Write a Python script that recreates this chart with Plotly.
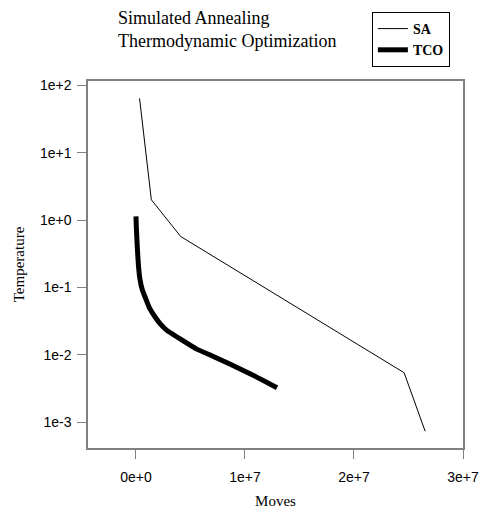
import plotly.graph_objects as go

# SA schedule
sa_moves = [3.3e5, 1.41e6, 4.1e6, 2.46e7, 2.653e7]
sa_temp = [64, 2.0, 0.57, 0.0054, 0.00073]

# TCO schedule
tco_moves = [0, 4e4, 1.2e5, 2.2e5, 3.6e5, 5.8e5, 8.7e5, 1.25e6, 1.77e6, 2.25e6, 2.81e6, 3.45e6, 4.16e6, 5.57e6, 7.0e6, 8.51e6, 1.07e7, 1.294e7]
tco_temp = [1.13, 0.75, 0.40, 0.22, 0.134, 0.092, 0.0695, 0.049, 0.036, 0.0285, 0.0232, 0.0198, 0.0167, 0.0121, 0.0096, 0.0074, 0.0050, 0.00324]

x_tickvals = [0, 1e7, 2e7, 3e7]
x_ticktext = ["0e+0", "1e+7", "2e+7", "3e+7"]
y_tickvals = [100, 10, 1, 0.1, 0.01, 0.001]
y_ticktext = ["1e+2", "1e+1", "1e+0", "1e-1", "1e-2", "1e-3"]

serif = "Liberation Serif"
sans = "Liberation Sans"

fig = go.Figure()
fig.add_trace(go.Scatter(x=sa_moves, y=sa_temp, mode="lines", name="SA",
                         line=dict(color="black", width=1)))
fig.add_trace(go.Scatter(x=tco_moves, y=tco_temp, mode="lines", name="TCO",
                         line=dict(color="black", width=5, shape="spline", smoothing=0.4)))

axis_common = dict(showline=True, linecolor="#808080", linewidth=1.5, mirror=True,
                   ticks="outside", ticklen=9, tickcolor="#808080", tickwidth=1,
                   showgrid=False, zeroline=False,
                   tickfont=dict(family=sans, size=14, color="black"))

fig.update_layout(
    width=491, height=519,
    margin=dict(l=88, r=20, t=77, b=60),
    paper_bgcolor="white", plot_bgcolor="white",
    xaxis=dict(range=[-4.4e6, 3.0e7], tickvals=x_tickvals, ticktext=x_ticktext,
               ticklabelstandoff=6,
               title=dict(text="Moves", font=dict(family=serif, size=15, color="black"), standoff=12),
               **axis_common),
    yaxis=dict(type="log", range=[-3.385, 2.064], tickvals=y_tickvals, ticktext=y_ticktext,
               ticklabelstandoff=3,
               title=dict(text="Temperature", font=dict(family=serif, size=15, color="black"), standoff=12),
               **axis_common),
    legend=dict(x=0.757, y=1.188, xanchor="left", yanchor="top",
                bordercolor="black", borderwidth=1, bgcolor="white",
                entrywidth=62, entrywidthmode="pixels",
                font=dict(family=serif, size=14, color="black", weight="bold")),
    showlegend=True,
)

fig.add_annotation(text="Simulated Annealing<br>Thermodynamic Optimization",
                   xref="paper", yref="paper", x=(117 - 88) / 383, y=1.203,
                   xanchor="left", yanchor="top", align="left", showarrow=False,
                   font=dict(family=serif, size=18, color="black"))

fig.write_html("out.html", config={"displayModeBar": False},
               post_script="document.body.style.margin='0';")
